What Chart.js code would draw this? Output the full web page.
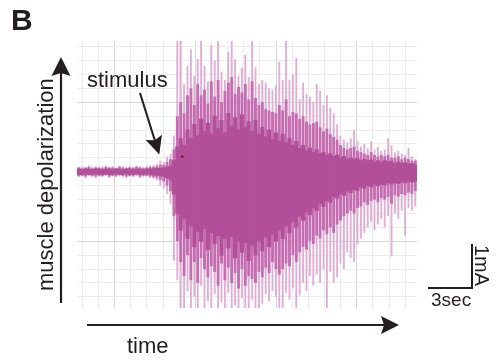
<!DOCTYPE html>
<html>
<head>
<meta charset="utf-8">
<script src="https://cdn.jsdelivr.net/npm/chart.js@4"></script>
<style>
  html, body { margin: 0; padding: 0; background: #fff; }
  #wrap { width: 496px; height: 362px; }
</style>
</head>
<body>
<div id="wrap"><canvas id="emg" width="496" height="362"></canvas></div>
<script>
// grid positions (x in 17px steps, y in 13.9px steps, 0 = resting level)
const gridX = [-2, -1, 0, 1, 2, 3, 4, 5, 6, 7, 8, 9, 10, 11, 12, 13, 14, 15, 16, 17];
const gridY = [-9, -8, -7, -6, -5, -4, -3, -2, -1, 0, 1, 2, 3, 4, 5, 6, 7, 8, 9];

// envelope of the trace, one value per sample (100 samples across the plot)
const lightHi = [0.35, 0.4, 0.3, 0.45, 0.35, 0.4, 0.3, 0.4, 0.45, 0.35, 0.4, 0.3, 0.45, 0.4, 0.35, 0.4, 0.3, 0.45, 0.4, 0.35, 0.4, 0.45, 0.5, 0.55,
  0.8, 0.7, 1.1, 1.3,
  2.6, 9.4, 9.4, 6.3, 7.6, 8.8, 6.9, 8.1, 9.4, 7.6, 6.5, 9.1, 8.0, 9.4, 7.2, 6.6, 8.6, 9.4, 8.1, 6.9, 7.5, 8.4, 6.8, 9.4, 7.5, 6.3, 6.6, 6.4,
  6.0, 5.9, 6.2, 7.9, 6.6, 9.4, 6.6, 7.0, 8.2, 5.2, 6.4, 5.6, 5.4, 5.0, 6.3, 5.8, 4.8, 5.5, 4.6, 4.2, 3.4, 2.6, 2.3, 2.1, 2.4, 3.0,
  2.2, 1.8, 2.0, 1.7, 2.2, 1.6, 1.8, 1.5, 1.6, 2.4, 1.9, 1.4, 1.5, 1.3, 1.2, 1.7, 1.1, 0.9];
const lightLo = [-0.4, -0.35, -0.45, -0.3, -0.4, -0.45, -0.35, -0.4, -0.3, -0.45, -0.35, -0.4, -0.3, -0.4, -0.45, -0.35, -0.4, -0.3, -0.45, -0.4, -0.35, -0.45, -0.5, -0.6,
  -1.0, -1.2, -1.6, -2.3,
  -6.4, -7.8, -9.8, -9.8, -8.6, -9.8, -9.0, -9.8, -8.2, -9.8, -9.3, -9.8, -8.8, -9.8, -9.4, -9.8, -8.7, -9.8, -9.6, -9.8, -9.1, -9.8, -9.8, -9.2, -9.8, -9.8, -9.5, -8.8,
  -9.3, -8.6, -9.0, -9.8, -9.8, -8.7, -9.2, -8.4, -9.8, -8.9, -8.0, -8.6, -7.5, -8.2, -7.4, -8.0, -7.0, -9.8, -7.2, -8.0, -7.6, -6.6, -7.0, -5.8, -6.2, -6.5,
  -5.2, -4.8, -4.4, -4.0, -3.6, -4.2, -3.8, -3.4, -4.0, -3.2, -6.1, -3.0, -3.4, -2.8, -4.6, -2.6, -2.8, -2.5];
const midHi = [0.3, 0.25, 0.3, 0.35, 0.25, 0.3, 0.3, 0.25, 0.35, 0.3, 0.3, 0.25, 0.35, 0.3, 0.25, 0.3, 0.3, 0.35, 0.3, 0.25, 0.3, 0.35, 0.35, 0.4,
  0.5, 0.5, 0.7, 0.9,
  1.6, 4.0, 5.0, 4.2, 5.5, 6.0, 4.8, 6.3, 5.5, 5.9, 4.9, 6.5, 5.4, 6.6, 5.0, 5.8, 6.4, 6.8, 5.6, 6.1, 5.7, 6.3, 5.2, 6.5, 5.3, 4.8, 5.0, 4.5,
  4.4, 4.3, 4.2, 4.8, 4.4, 5.2, 4.0, 4.3, 4.2, 3.8, 4.0, 3.6, 3.4, 3.5, 3.6, 3.2, 2.9, 3.1, 2.7, 2.5, 2.3, 1.9, 1.7, 1.6, 1.7, 1.8,
  1.5, 1.4, 1.3, 1.2, 1.4, 1.2, 1.1, 1.2, 1.1, 1.2, 1.0, 1.0, 1.1, 0.9, 1.0, 0.9, 0.8, 0.8];
const midLo = [-0.3, -0.3, -0.35, -0.25, -0.3, -0.35, -0.3, -0.3, -0.25, -0.35, -0.3, -0.3, -0.25, -0.3, -0.35, -0.3, -0.3, -0.25, -0.35, -0.3, -0.3, -0.35, -0.4, -0.45,
  -0.6, -0.7, -1.0, -1.4,
  -3.2, -5.0, -6.5, -7.5, -6.0, -7.8, -6.5, -8.0, -6.2, -7.0, -7.6, -6.8, -7.2, -8.2, -6.6, -7.8, -6.9, -8.0, -7.3, -8.4, -7.0, -8.2, -7.5, -7.7, -8.0, -7.2, -7.6, -6.9,
  -7.3, -6.5, -7.0, -7.4, -7.0, -6.6, -6.8, -6.0, -6.5, -5.8, -5.4, -5.6, -5.0, -5.2, -4.6, -4.8, -4.2, -4.5, -4.0, -4.4, -3.8, -3.5, -3.2, -3.0, -2.8, -3.0,
  -2.6, -2.5, -2.2, -2.4, -2.1, -2.0, -2.2, -1.9, -2.0, -1.8, -2.3, -1.7, -1.8, -1.6, -1.7, -1.5, -1.6, -1.4];
const coreHi = [0.2, 0.15, 0.2, 0.2, 0.15, 0.2, 0.2, 0.15, 0.2, 0.2, 0.15, 0.2, 0.2, 0.15, 0.2, 0.2, 0.15, 0.2, 0.2, 0.15, 0.2, 0.2, 0.2, 0.25,
  0.25, 0.3, 0.35, 0.4,
  0.8, 1.8, 2.4, 1.9, 3.0, 2.4, 3.4, 2.6, 3.8, 2.9, 3.5, 2.7, 4.0, 3.1, 3.7, 2.8, 4.2, 3.3, 3.9, 3.0, 4.1, 3.2, 3.6, 2.9, 3.7, 2.7, 3.2, 2.5,
  3.0, 2.3, 2.8, 2.2, 2.7, 2.1, 2.4, 1.9, 2.2, 1.7, 1.9, 1.5, 1.7, 1.4, 1.6, 1.3, 1.4, 1.2, 1.3, 1.1, 1.2, 1.0, 1.1, 0.9, 1.0, 0.9,
  0.95, 0.8, 0.9, 0.8, 0.85, 0.7, 0.8, 0.7, 0.8, 0.7, 0.75, 0.6, 0.7, 0.6, 0.65, 0.55, 0.6, 0.5];
const coreLo = [-0.2, -0.2, -0.15, -0.2, -0.2, -0.15, -0.2, -0.2, -0.15, -0.2, -0.2, -0.15, -0.2, -0.2, -0.15, -0.2, -0.2, -0.15, -0.2, -0.2, -0.15, -0.2, -0.25, -0.25,
  -0.3, -0.35, -0.45, -0.6,
  -1.6, -3.0, -4.2, -3.4, -4.8, -3.9, -5.4, -4.3, -5.0, -4.1, -5.6, -4.4, -5.2, -4.6, -6.0, -4.8, -5.5, -4.7, -6.2, -5.0, -5.8, -5.1, -6.4, -5.3, -6.0, -5.0, -5.7, -4.7,
  -5.4, -4.5, -5.0, -4.2, -4.8, -3.9, -4.4, -3.6, -4.0, -3.2, -3.5, -2.9, -3.1, -2.6, -2.8, -2.3, -2.5, -2.1, -2.2, -1.8, -1.9, -1.6, -1.7, -1.4, -1.5, -1.3,
  -1.35, -1.1, -1.2, -1.0, -1.1, -0.9, -1.0, -0.9, -0.95, -0.8, -0.9, -0.8, -0.85, -0.75, -0.8, -0.7, -0.75, -0.7];
const stimulusPoint = [{ x: 3.7, y: 1.08 }];

const samples = lightHi.map((_, i) => i);
const pairs = (lo, hi) => lo.map((v, i) => [v, hi[i]]);

const INK = "#231f20";
const FONT = "'Liberation Sans', Arial, sans-serif";

function arrowHead(ctx, tipX, tipY, dx, dy, len, half, notch) {
  const n = Math.hypot(dx, dy);
  const ux = dx / n, uy = dy / n;
  const bx = tipX - ux * len, by = tipY - uy * len;
  ctx.beginPath();
  ctx.moveTo(tipX, tipY);
  ctx.lineTo(bx - uy * half, by + ux * half);
  ctx.lineTo(tipX - ux * (len - notch), tipY - uy * (len - notch));
  ctx.lineTo(bx + uy * half, by - ux * half);
  ctx.closePath();
  ctx.fill();
}

const annotations = {
  id: "annotations",
  afterDraw(chart) {
    const ctx = chart.ctx;
    ctx.save();
    ctx.fillStyle = INK;
    ctx.strokeStyle = INK;

    ctx.font = "bold 30px " + FONT;
    ctx.fillText("B", 11, 30);

    // y arrow
    ctx.lineWidth = 2.2;
    ctx.beginPath();
    ctx.moveTo(61, 303);
    ctx.lineTo(61, 70);
    ctx.stroke();
    arrowHead(ctx, 61, 57, 0, -1, 19, 9.5, 3);

    // x arrow
    ctx.beginPath();
    ctx.moveTo(87, 325);
    ctx.lineTo(386, 325);
    ctx.stroke();
    arrowHead(ctx, 399, 325, 1, 0, 18, 9, 3);

    // stimulus arrow
    ctx.lineWidth = 2;
    ctx.beginPath();
    ctx.moveTo(140, 93);
    ctx.lineTo(155, 141);
    ctx.stroke();
    arrowHead(ctx, 159.3, 154.5, 19.3, 60.7, 18, 8.5, 3);

    ctx.font = "22px " + FONT;
    ctx.fillText("stimulus", 87, 87);
    ctx.fillText("time", 127, 353);

    ctx.save();
    ctx.translate(53, 291);
    ctx.rotate(-Math.PI / 2);
    ctx.fillText("muscle depolarization", 0, 0);
    ctx.restore();

    // scale bar
    ctx.lineWidth = 2;
    ctx.beginPath();
    ctx.moveTo(472, 244);
    ctx.lineTo(472, 288);
    ctx.lineTo(428, 288);
    ctx.stroke();
    ctx.font = "19px " + FONT;
    ctx.fillText("3sec", 431, 306);
    ctx.save();
    ctx.translate(475, 245);
    ctx.rotate(Math.PI / 2);
    ctx.font = "20px " + FONT;
    ctx.fillText("1mA", 0, 0);
    ctx.restore();

    ctx.restore();
  }
};

const gridColor = (c) => (c.tick && c.tick.value % 5 === 0 ? "#d6d6d6" : "#ececec");

new Chart(document.getElementById("emg"), {
  type: "bar",
  data: {
    labels: samples,
    datasets: [
      {
        type: "scatter",
        data: stimulusPoint,
        xAxisID: "x",
        yAxisID: "y",
        pointStyle: "rect",
        pointRadius: 1.8,
        backgroundColor: "#8e1f35",
        borderColor: "#8e1f35",
        borderWidth: 0,
        order: -1
      },
      {
        data: pairs(coreLo, coreHi),
        xAxisID: "xb",
        backgroundColor: "#b24f99",
        barPercentage: 1,
        categoryPercentage: 1,
        grouped: false,
        order: 0
      },
      {
        data: pairs(midLo, midHi),
        xAxisID: "xb",
        backgroundColor: "#c46db0",
        barPercentage: 0.85,
        categoryPercentage: 1,
        grouped: false,
        order: 1
      },
      {
        data: pairs(lightLo, lightHi),
        xAxisID: "xb",
        backgroundColor: "#e0add5",
        barPercentage: 0.55,
        categoryPercentage: 1,
        grouped: false,
        order: 2
      }
    ]
  },
  options: {
    responsive: false,
    animation: false,
    layout: { padding: { left: 77, top: 41, right: 79, bottom: 54 } },
    plugins: { legend: { display: false }, tooltip: { enabled: false } },
    scales: {
      xb: { type: "category", display: false, offset: true },
      x: {
        type: "linear",
        position: "bottom",
        min: -2.3,
        max: 17.7,
        afterBuildTicks: (axis) => { axis.ticks = gridX.map(v => ({ value: v })); },
        ticks: { display: false },
        border: { display: false },
        grid: { drawTicks: false, color: gridColor, lineWidth: 1 }
      },
      y: {
        type: "linear",
        min: -9.8,
        max: 9.4,
        afterBuildTicks: (axis) => { axis.ticks = gridY.map(v => ({ value: v })); },
        ticks: { display: false },
        border: { display: false },
        grid: { drawTicks: false, color: gridColor, lineWidth: 1 }
      }
    }
  },
  plugins: [annotations]
});
</script>
</body>
</html>
